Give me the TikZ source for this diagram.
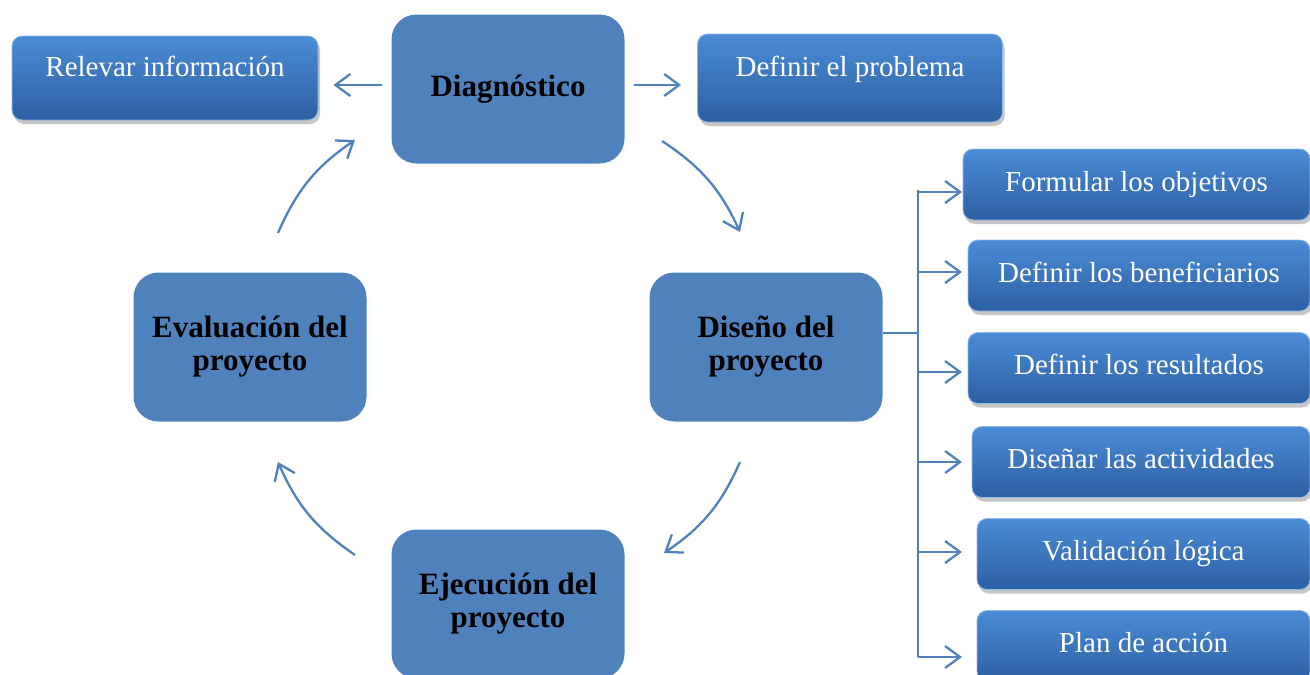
\documentclass[tikz,border=0pt]{standalone}
\usepackage{fontspec}
\setmainfont{Liberation Serif}
\usetikzlibrary{arrows.meta,shadows,positioning}

\definecolor{mainblue}{HTML}{4F81BD}
\definecolor{sidetop}{HTML}{4A8CD6}
\definecolor{sidebot}{HTML}{2D5FA3}

\tikzset{
  stagebox/.style={fill=mainblue, rounded corners=25pt, minimum width=233pt,
    minimum height=149pt, align=center, font=\fontsize{31}{33}\selectfont\bfseries},
  sidebox/.style={top color=sidetop, bottom color=sidebot, draw=sidetop!60!white,
    line width=0.8pt, rounded corners=10pt, text=white, minimum height=71pt,
    text height=20pt, text depth=7pt, font=\fontsize{29}{33}\selectfont,
    drop shadow={opacity=0.45, shadow xshift=2pt, shadow yshift=-4pt}},
  conn/.style={mainblue, line width=2.3pt},
  arr/.style={conn, -{Straight Barb[length=15pt,width=22pt]}},
}

\begin{document}
\begin{tikzpicture}[x=1pt, y=-1pt]
  \useasboundingbox (0,0) rectangle (1310,675);

  % the four stages
  \node[stagebox] (diag)   at (508,89)  {Diagnóstico};
  \node[stagebox] (diseno) at (766,347) {Diseño del\\proyecto};
  \node[stagebox] (ejec)   at (508,604) {Ejecución del\\proyecto};
  \node[stagebox] (eval)   at (250,347) {Evaluación del\\proyecto};

  % boxes beside the diagnosis
  \node[sidebox, minimum width=306pt, minimum height=84pt, text depth=24pt]
    (relevar) at (165,78) {Relevar información};
  \node[sidebox, minimum width=305pt, minimum height=88pt, text depth=24pt]
    (problema) at (850,78) {Definir el problema};

  % boxes of the design
  \node[sidebox, minimum width=347pt] (obj)    at (1136.5,184.5) {Formular los objetivos};
  \node[sidebox, minimum width=342pt] (benef)  at (1139,275.5)   {Definir los beneficiarios};
  \node[sidebox, minimum width=342pt] (result) at (1139,368)     {Definir los resultados};
  \node[sidebox, minimum width=338pt] (activ)  at (1141,462)     {Diseñar las actividades};
  \node[sidebox, minimum width=333pt] (valid)  at (1143.5,554)   {Validación lógica};
  \node[sidebox, minimum width=333pt] (plan)   at (1143.5,646)   {Plan de acción};

  % straight arrows from the diagnosis
  \coordinate (dl) at (382,85);
  \coordinate (dr) at (634,85);
  \draw[arr, shorten >=15pt] (dl) -- (dl -| relevar.east);
  \draw[arr, shorten >=16pt] (dr) -- (dr -| problema.west);

  % the cycle
  \coordinate (c1s) at (662,141); \coordinate (c1e) at (740,232);
  \coordinate (c2s) at (740,462); \coordinate (c2e) at (664,553);
  \coordinate (c3s) at (355,555); \coordinate (c3e) at (278,462);
  \coordinate (c4s) at (278,233); \coordinate (c4e) at (355,140);
  \foreach \s/\e in {c1s/c1e, c2s/c2e, c3s/c3e, c4s/c4e}
    \draw[arr] (\s) to[bend left=16] (\e);

  % bus to the design boxes
  \coordinate (tap) at (918,333);
  \coordinate (bustop) at (918,190);
  \coordinate (busbot) at (918,657);
  \draw[conn] (tap -| diseno.east) -- (tap);
  \draw[conn] (bustop) -- (busbot);
  \foreach \y in {192, 272, 372, 462, 552, 657}
    \draw[arr] (bustop |- 0,\y) -- ++(44,0);

\end{tikzpicture}
\end{document}
